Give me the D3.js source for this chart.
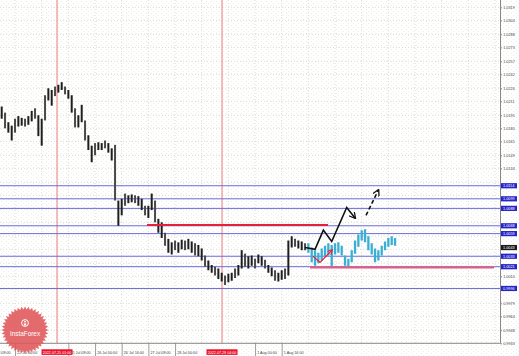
<!DOCTYPE html>
<html>
<head>
<meta charset="utf-8">
<script src="https://cdn.jsdelivr.net/npm/d3@7"></script>
<style>
body{margin:0;background:#fff;}
svg{display:block;font-family:"Liberation Sans",Arial,sans-serif;}
</style>
</head>
<body>
<svg id="chart" width="519" height="356"></svg>
<script>
// H2 bars (price)
var highs = [1.0205,1.0198,1.0187,1.0183,1.0191,1.0194,1.0192,1.0191,1.0194,1.0200,
  1.0203,1.0195,1.0191,1.0218,1.0226,1.0224,1.0228,1.0230,1.0233,1.0228,
  1.0224,1.0218,1.0203,1.0195,1.0207,1.0189,1.0172,1.0160,1.0163,1.0164,
  1.0163,1.0166,1.0163,1.0157,1.0161,1.0097,1.0099,1.0105,1.0103,1.0104,
  1.0103,1.0102,1.0099,1.0091,1.0091,1.0105,1.0097,1.0076,1.0072,1.0060,
  1.0053,1.0049,1.0051,1.0049,1.0052,1.0051,1.0053,1.0050,1.0048,1.0046,
  1.0042,1.0034,1.0028,1.0023,1.0021,1.0019,1.0014,1.0011,1.0013,1.0014,
  1.0019,1.0023,1.0040,1.0036,1.0033,1.0034,1.0030,1.0035,1.0033,1.0029,
  1.0023,1.0020,1.0017,1.0014,1.0017,1.0019,1.0051,1.0056,1.0053,1.0051,
  1.0050,1.0048];
var lows = [1.0191,1.0180,1.0175,1.0166,1.0175,1.0182,1.0183,1.0182,1.0184,1.0188,
  1.0191,1.0171,1.0160,1.0189,1.0212,1.0206,1.0217,1.0221,1.0224,1.0219,
  1.0214,1.0198,1.0181,1.0181,1.0187,1.0166,1.0155,1.0141,1.0149,1.0155,
  1.0155,1.0157,1.0152,1.0143,1.0097,1.0068,1.0080,1.0091,1.0094,1.0095,
  1.0094,1.0091,1.0086,1.0080,1.0077,1.0086,1.0072,1.0060,1.0054,1.0045,
  1.0037,1.0035,1.0040,1.0037,1.0041,1.0040,1.0041,1.0037,1.0034,1.0033,
  1.0028,1.0021,1.0017,1.0014,1.0011,1.0007,1.0004,1.0000,1.0003,1.0005,
  1.0008,1.0011,1.0019,1.0021,1.0019,1.0022,1.0019,1.0025,1.0022,1.0019,
  1.0014,1.0010,1.0005,1.0004,1.0006,1.0007,1.0011,1.0043,1.0044,1.0042,
  1.0040,1.0040];

// forecast bars (cyan), starting at bar 92
var projStart = 92;
var projHighs = [1.0048,1.0043,1.0040,1.0037,1.0042,1.0045,1.0048,1.0046,1.0048,1.0049,
  1.0045,1.0034,1.0030,1.0040,1.0051,1.0058,1.0063,1.0064,1.0056,1.0048,
  1.0042,1.0040,1.0045,1.0050,1.0054,1.0056,1.0054];
var projLows = [1.0037,1.0026,1.0022,1.0025,1.0028,1.0033,1.0034,1.0020,1.0035,1.0037,
  1.0034,1.0022,1.0020,1.0026,1.0036,1.0044,1.0051,1.0049,1.0040,1.0035,
  1.0026,1.0028,1.0034,1.0040,1.0044,1.0046,1.0045];

var priceTicks = [1.0319,1.0304,1.0288,1.0273,1.0257,1.0242,1.0226,1.0211,1.0195,1.0180,
  1.0165,1.0149,1.0134,1.0118,1.0103,1.0087,1.0072,1.0056,1.0041,1.0025,
  1.0010,0.9995,0.9979,0.9964,0.9948,0.9933];

var timeLabels = ["21 Jul 08:00","22 Jul 00:00","22 Jul 16:00","25 Jul 08:00","26 Jul 00:00",
  "26 Jul 16:00","27 Jul 08:00","28 Jul 00:00","28 Jul 16:00","29 Jul 08:00","1 Aug 00:00","1 Aug 16:00"];
var timeLabelBars = [-4,4,12,20,28,36,44,52,60,68,76,84];
var gridBars = [-4,4,12,20,28,36,44,52,60,68,76,84,92,100,108,116,124,132,140,148];

var levelLines = [1.0114,1.0099,1.0088,1.0068,1.0059,1.0033,1.0021,0.9996];
var lastPrice = 1.0043;

var vLineBars = [16.6, 66.1];
var vLineLabels = ["2022.07.25 01:00","2022.07.29 04:00"];

var resistance = {price: 1.0069, from: 43.6, to: 97.9};
var support = {price: 1.0020, from: 92.5, to: 147.7};

var mainArrow = [[91,1.0043],[94,1.0041],[96.5,1.0063],[99,1.0050],[103.5,1.0089],[106,1.0077]];
var dashArrow = [[109.3,1.0080],[113,1.0109]];
var smallArrow = [[93.4,1.0033],[95.5,1.0026],[99.1,1.0040]];

var svg = d3.select("#chart"),
    plotR = 500.5, plotB = 343.3, boxHalf = 15.5;

var x = d3.scaleLinear().domain([0, 150]).range([1.7, 501.7]);
var y = d3.scaleLinear().domain([0.9933, 1.0319]).range([343.3, 7.3]);

var defs = svg.append("defs");
var pat = defs.append("pattern").attr("id", "speck").attr("patternUnits", "userSpaceOnUse")
    .attr("width", 5).attr("height", 4);
pat.append("rect").attr("width", 5).attr("height", 4).attr("fill", "#fff");
pat.append("rect").attr("x", 1).attr("y", 1).attr("width", 1).attr("height", 1).attr("fill", "#ebebe1");
pat.append("rect").attr("x", 3).attr("y", 3).attr("width", 1).attr("height", 1).attr("fill", "#f0efe6");
defs.append("clipPath").attr("id", "plot").append("rect")
    .attr("width", plotR).attr("height", plotB);

function marker(id, color) {
  defs.append("marker").attr("id", id).attr("viewBox", "0 0 10 10")
      .attr("refX", 8).attr("refY", 5).attr("markerWidth", 4.5).attr("markerHeight", 4.5)
      .attr("orient", "auto")
    .append("path").attr("d", "M0,0L9,5L0,10").attr("fill", "none")
      .attr("stroke", color).attr("stroke-width", 1.8);
}
marker("headBlack", "#111");
marker("headRed", "#e8203a");

svg.append("rect").attr("width", 519).attr("height", 356).attr("fill", "url(#speck)");

var g = svg.append("g").attr("clip-path", "url(#plot)");

// grid
g.append("g").selectAll("line").data(priceTicks).enter().append("line")
    .attr("x1", 0).attr("x2", plotR)
    .attr("y1", function(d) { return y(d); }).attr("y2", function(d) { return y(d); })
    .attr("stroke", "#d6d6c8").attr("stroke-width", 0.8).attr("stroke-dasharray", "1,2");
g.append("g").selectAll("line").data(gridBars).enter().append("line")
    .attr("x1", function(d) { return x(d); }).attr("x2", function(d) { return x(d); })
    .attr("y1", 0).attr("y2", plotB)
    .attr("stroke", "#d6d6c8").attr("stroke-width", 0.8).attr("stroke-dasharray", "1,2");

// vertical red lines
g.append("g").selectAll("line").data(vLineBars).enter().append("line")
    .attr("x1", function(d) { return x(d); }).attr("x2", function(d) { return x(d); })
    .attr("y1", 0).attr("y2", plotB)
    .attr("stroke", "#f07a7a").attr("stroke-width", 1);

// horizontal levels
g.append("g").selectAll("line").data(levelLines).enter().append("line")
    .attr("x1", 0).attr("x2", plotR)
    .attr("y1", function(d) { return y(d); }).attr("y2", function(d) { return y(d); })
    .attr("stroke", "#6b6bdc").attr("stroke-width", 1);

// bars
g.append("g").selectAll("line").data(highs).enter().append("line")
    .attr("x1", function(d, i) { return x(i); }).attr("x2", function(d, i) { return x(i); })
    .attr("y1", function(d) { return y(d); })
    .attr("y2", function(d, i) { return y(lows[i]); })
    .attr("stroke", function(d, i) { return i % 3 == 1 ? "#4a4a4a" : "#1e1e1e"; })
    .attr("stroke-width", 2);

g.append("g").selectAll("line").data(projHighs).enter().append("line")
    .attr("x1", function(d, i) { return x(projStart + i); }).attr("x2", function(d, i) { return x(projStart + i); })
    .attr("y1", function(d) { return y(d); })
    .attr("y2", function(d, i) { return y(projLows[i]); })
    .attr("stroke", "#3aaed4").attr("stroke-width", 2.3);

// red resistance and pink support
g.append("line")
    .attr("x1", x(resistance.from)).attr("x2", x(resistance.to))
    .attr("y1", y(resistance.price)).attr("y2", y(resistance.price))
    .attr("stroke", "#e6203c").attr("stroke-width", 2);
g.append("line")
    .attr("x1", x(support.from)).attr("x2", x(support.to))
    .attr("y1", y(support.price)).attr("y2", y(support.price))
    .attr("stroke", "#ec5878").attr("stroke-width", 2);

// arrows
var line = d3.line().x(function(d) { return x(d[0]); }).y(function(d) { return y(d[1]); });
g.append("path").attr("d", line(mainArrow)).attr("fill", "none")
    .attr("stroke", "#111").attr("stroke-width", 1.6).attr("marker-end", "url(#headBlack)");
g.append("path").attr("d", line(dashArrow)).attr("fill", "none")
    .attr("stroke", "#111").attr("stroke-width", 1.6).attr("stroke-dasharray", "4,2.5")
    .attr("marker-end", "url(#headBlack)");
g.append("path").attr("d", line(smallArrow)).attr("fill", "none")
    .attr("stroke", "#e8203a").attr("stroke-width", 1.2).attr("marker-end", "url(#headRed)");

// frame
svg.append("line").attr("x1", plotR).attr("x2", plotR).attr("y1", 0).attr("y2", plotB)
    .attr("stroke", "#888").attr("stroke-width", 1);
svg.append("line").attr("x1", 0).attr("x2", plotR).attr("y1", plotB).attr("y2", plotB)
    .attr("stroke", "#888").attr("stroke-width", 1);

// price axis; labels sitting under a highlighted box are hidden, as in the terminal
var boxPrices = levelLines.concat([lastPrice]);
var shownTicks = priceTicks.filter(function(t) {
  return boxPrices.every(function(p) { return Math.abs(y(t) - y(p)) >= 4.2; });
});
var yAxis = svg.append("g").attr("transform", "translate(" + plotR + ",0)")
    .call(d3.axisRight(y).tickValues(shownTicks).tickSize(1.5).tickPadding(1.2).tickFormat(d3.format(".4f")));
yAxis.select(".domain").remove();
yAxis.selectAll("line").attr("stroke", "#888");
yAxis.selectAll("text").attr("font-size", 3.8).attr("fill", "#444").attr("font-family", "Liberation Sans, Arial, sans-serif");

// highlighted price boxes
function priceBox(p, fill) {
  var b = svg.append("g").attr("transform", "translate(" + (plotR + 0.5) + "," + y(p) + ")");
  b.append("rect").attr("x", 0).attr("y", -2.6).attr("width", 16).attr("height", 5.2).attr("fill", fill);
  b.append("text").attr("x", 2).attr("y", 1.4).attr("font-size", 3.8).attr("fill", "#fff")
      .text(d3.format(".4f")(p));
}
levelLines.forEach(function(p) { priceBox(p, "#2424c8"); });
priceBox(lastPrice, "#1a1a1a");

// time axis; labels mostly covered by the red line boxes are left out
var shownBars = timeLabelBars.filter(function(b) {
  return vLineBars.every(function(v) {
    return x(b) + 19 < x(v) - boxHalf || x(b) + 1.6 > x(v) + boxHalf - 4;
  });
});
var xAxis = svg.append("g").attr("transform", "translate(0," + plotB + ")")
    .call(d3.axisBottom(x).tickValues(shownBars).tickSize(12.7)
      .tickFormat(function(d) { return timeLabels[timeLabelBars.indexOf(d)]; }));
xAxis.select(".domain").remove();
xAxis.selectAll("line").attr("stroke", "#777").attr("stroke-width", 0.7);
xAxis.selectAll("text").attr("font-size", 3.7).attr("fill", "#444")
    .attr("text-anchor", "start").attr("x", 1.6).attr("y", 10.3).attr("dy", 0)
    .attr("font-family", "Liberation Sans, Arial, sans-serif");

// vertical line time boxes
vLineBars.forEach(function(b, i) {
  svg.append("rect").attr("x", x(b) - boxHalf).attr("y", 349.3).attr("width", boxHalf * 2).attr("height", 5.6)
      .attr("fill", "#f0102a");
  svg.append("text").attr("x", x(b)).attr("y", 353.6).attr("text-anchor", "middle")
      .attr("font-size", 3.7).attr("fill", "#fff").text(vLineLabels[i]);
});

// InstaForex badge
var badge = svg.append("g").attr("transform", "translate(25,330)").attr("opacity", 0.88);
var star = d3.range(80).map(function(k) {
  var a = k / 80 * 2 * Math.PI, r = k % 2 ? 20.5 : 23.5;
  return [r * Math.sin(a), -r * Math.cos(a)];
});
badge.append("path").attr("d", "M" + star.join("L") + "Z").attr("fill", "#e0575a");
badge.append("circle").attr("cy", -7).attr("r", 3.4).attr("fill", "none")
    .attr("stroke", "#fff").attr("stroke-width", 1);
badge.append("circle").attr("cy", -8.3).attr("r", 0.9).attr("fill", "#fff");
badge.append("path").attr("d", "M-1.4,-6.6L1.4,-6.6L0.8,-4.4L-0.8,-4.4Z").attr("fill", "#fff");
badge.append("text").attr("y", 5.8).attr("text-anchor", "middle").attr("font-size", 6.4)
    .attr("fill", "#fff").text("InstaForex");
</script>
</body>
</html>
